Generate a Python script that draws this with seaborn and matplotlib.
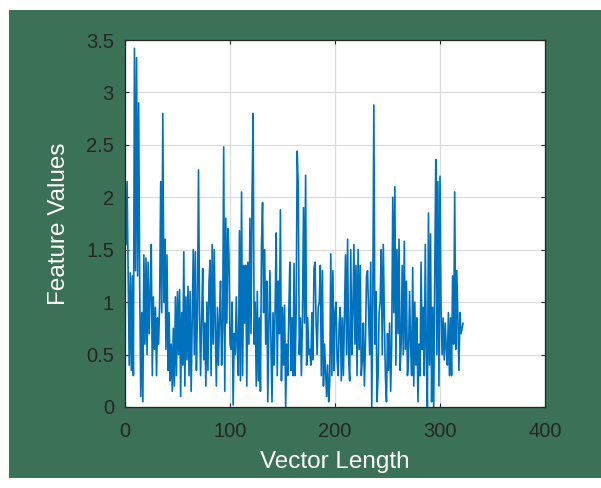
import numpy as np
import matplotlib
matplotlib.use("Agg")
import matplotlib.pyplot as plt
import seaborn as sns
from matplotlib.patches import Rectangle

# --- Data ---
feature_values = [
    1.55, 2.15, 1.30, 0.40, 1.28, 0.35, 1.25, 0.30, 3.42, 1.30,
    3.33, 1.25, 2.90, 1.15, 0.10, 0.90, 0.05, 1.45, 0.60, 1.42,
    0.50, 1.38, 0.70, 1.10, 1.55, 0.30, 1.05, 0.55, 0.95, 0.30,
    0.85, 0.60, 1.00, 2.15, 0.90, 2.80, 1.00, 1.60, 0.55, 1.45,
    0.35, 0.90, 0.25, 0.60, 0.15, 0.75, 0.20, 1.05, 0.30, 1.10,
    0.50, 1.12, 0.10, 0.90, 0.40, 1.48, 0.20, 1.05, 0.45, 1.15,
    0.30, 1.10, 0.15, 0.85, 1.50, 0.50, 1.48, 0.35, 0.90, 2.26,
    0.90, 0.30, 0.85, 1.32, 0.45, 0.80, 0.20, 1.00, 0.35, 1.20,
    1.40, 0.30, 1.55, 0.60, 1.50, 0.75, 0.20, 0.95, 0.40, 0.85,
    1.20, 0.40, 0.75, 2.48, 0.15, 1.80, 0.80, 1.70, 1.45, 0.60,
    0.55, 1.00, 0.02, 0.70, 0.50, 1.05, 0.55, 0.30, 1.68, 0.25,
    2.05, 0.30, 1.35, 0.80, 1.35, 0.20, 1.38, 0.60, 1.80, 0.70,
    2.02, 2.80, 0.60, 1.00, 0.20, 1.10, 0.25, 0.85, 0.15, 1.55,
    1.95, 0.90, 1.50, 0.60, 1.20, 0.05, 0.80, 1.30, 0.60, 0.05,
    0.90, 0.40, 0.95, 1.66, 0.30, 1.20, 0.70, 1.88, 0.25, 0.95,
    0.40, 0.97, 0.00, 0.60, 0.30, 0.90, 1.38, 0.35, 0.85, 0.30,
    1.37, 0.30, 0.90, 2.44, 2.10, 0.50, 0.85, 0.30, 0.85, 1.90,
    0.80, 2.21, 0.40, 0.85, 0.50, 0.55, 0.40, 0.90, 0.45, 1.33,
    1.38, 0.80, 0.50, 0.95, 1.00, 1.35, 0.30, 1.30, 0.20, 0.60,
    0.35, 0.10, 0.40, 0.05, 0.25, 1.46, 0.30, 1.30, 0.35, 0.90,
    1.00, 0.45, 0.30, 0.80, 0.95, 0.25, 0.85, 0.30, 0.90, 1.45,
    0.50, 1.60, 0.45, 0.25, 1.50, 0.50, 0.90, 1.55, 0.60, 1.35,
    0.30, 1.50, 0.55, 1.35, 0.30, 0.45, 0.80, 0.20, 0.60, 1.25,
    1.30, 0.90, 0.50, 1.38, 0.00, 1.00, 2.88, 0.60, 1.10, 0.05,
    0.30, 0.90, 1.00, 1.50, 0.50, 1.55, 0.85, 0.30, 0.05, 0.70,
    0.35, 0.80, 0.15, 0.60, 2.00, 0.90, 2.10, 0.40, 1.50, 0.70,
    1.60, 0.35, 0.60, 1.35, 0.50, 1.58, 0.55, 1.20, 0.30, 0.45,
    1.10, 0.60, 0.30, 1.33, 0.20, 1.00, 0.40, 0.85, 0.05, 0.60,
    0.30, 1.38, 0.55, 0.95, 0.30, 1.55, 0.50, 0.00, 1.85, 0.40,
    1.65, 0.05, 0.95, 0.00, 1.30, 2.36, 0.50, 2.15, 0.20, 2.20,
    0.90, 0.50, 0.85, 0.45, 0.80, 0.55, 0.40, 0.90, 0.30, 0.85,
    0.30, 1.25, 0.60, 2.05, 0.55, 1.30, 0.85, 0.35, 0.90, 0.70,
    0.75, 0.80,
]
vector_index = list(range(1, len(feature_values) + 1))

x_ticks = [0, 100, 200, 300, 400]
y_ticks = [0, 0.5, 1, 1.5, 2, 2.5, 3, 3.5]
y_tick_labels = ["0", "0.5", "1", "1.5", "2", "2.5", "3", "3.5"]

BG_GREEN = "#3b7157"
LINE_BLUE = "#0072bd"
DARK = "#262626"

# --- Style ---
sns.set_theme(style="whitegrid")
plt.rcParams["font.family"] = ["Liberation Sans", "DejaVu Sans"]

fig = plt.figure(figsize=(6.01, 4.88), dpi=100)
fig.patch.set_facecolor("white")
# green panel behind the axes (white strip left/top/bottom like the reference)
fig.patches.append(Rectangle((9 / 601, 10 / 488), 1.0, (478 - 10) / 488,
                             transform=fig.transFigure, facecolor=BG_GREEN,
                             edgecolor="none", zorder=-10))

ax = fig.add_axes([125 / 601, (488 - 407) / 488, 420 / 601, 367 / 488])
ax.set_facecolor("white")

sns.lineplot(x=vector_index, y=feature_values, ax=ax, color=LINE_BLUE,
             linewidth=1.2)

ax.set_xlim(0, 400)
ax.set_ylim(0, 3.5)
ax.set_xticks(x_ticks)
ax.set_yticks(y_ticks)
ax.set_yticklabels(y_tick_labels)

ax.grid(True, color="#dcdcdc", linewidth=0.9)
for s in ax.spines.values():
    s.set_color(DARK)
    s.set_linewidth(0.9)
    s.set_visible(True)

ax.tick_params(axis="both", direction="in", length=3, width=0.8, color=DARK,
               labelsize=14.5, labelcolor=DARK, top=True, right=True,
               bottom=True, left=True)
ax.tick_params(axis="x", pad=11)
ax.tick_params(axis="y", pad=8)

ax.set_xlabel("Vector Length", fontsize=17.5, color="white")
ax.set_ylabel("Feature Values", fontsize=17.5, color="white")
ax.xaxis.set_label_coords(0.5, -0.12)
ax.yaxis.set_label_coords(-0.132, 0.5)

plt.savefig("out.png", dpi=100)
plt.close()
